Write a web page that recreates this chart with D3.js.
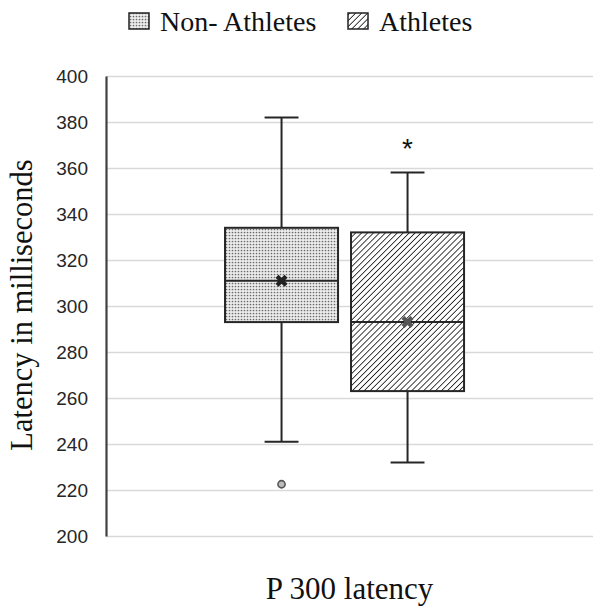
<!DOCTYPE html>
<html><head><meta charset="utf-8">
<script src="https://cdn.jsdelivr.net/npm/d3@7"></script>
<style>body{margin:0;background:#fff}</style>
</head><body>
<svg id="c" width="600" height="612"></svg>
<script>
const categories = ["P 300 latency"];
const series = ["Non- Athletes", "Athletes"];
const whiskerLow = [241, 232];
const q1 = [293, 263];
const median = [311, 293];
const q3 = [334, 332];
const whiskerHigh = [382, 358];
const means = [311, 293];
const outliers = [[222.5], []];
const yTicks = [200, 220, 240, 260, 280, 300, 320, 340, 360, 380, 400];
const yTitle = "Latency in milliseconds";

(function(){
const svg = d3.select("#c");
const pl = 106, pr = 593, pt = 76, pb = 536;
const y = d3.scaleLinear().domain([200, 400]).range([pb, pt]);
const x0 = d3.scaleBand().domain(categories).range([pl, pr]);
const x1 = d3.scaleBand().domain(series).range([0, x0.bandwidth()])
  .paddingInner(0.103).paddingOuter(0.984).align(0.48);

const defs = svg.append("defs");
const pd = defs.append("pattern").attr("id","dots").attr("patternUnits","userSpaceOnUse").attr("width",3).attr("height",3);
pd.append("rect").attr("width",3).attr("height",3).attr("fill","#ececec");
pd.append("circle").attr("cx",1.5).attr("cy",1.5).attr("r",0.85).attr("fill","#6a6a6a");
const ph = defs.append("pattern").attr("id","hatch").attr("patternUnits","userSpaceOnUse").attr("width",4.2).attr("height",4.2).attr("patternTransform","rotate(45)");
ph.append("rect").attr("width",4.2).attr("height",4.2).attr("fill","#fff");
ph.append("line").attr("x1",0).attr("y1",0).attr("x2",0).attr("y2",4.2).attr("stroke","#111").attr("stroke-width",1.6);
const fills = ["url(#dots)", "url(#hatch)"];

const g = svg.append("g").attr("transform", `translate(${pl},0)`);
g.call(d3.axisLeft(y).tickValues(yTicks).tickSize(-(pr-pl)).tickFormat(""))
  .call(s => s.select(".domain").remove())
  .call(s => s.selectAll(".tick line").attr("stroke","#d9d9d9").attr("stroke-width",1.6));
const ax = svg.append("g").attr("transform", `translate(${pl},0)`)
  .call(d3.axisLeft(y).tickValues(yTicks).tickSize(0).tickPadding(18));
ax.select(".domain").attr("stroke","#404040").attr("stroke-width",2.2);
ax.selectAll(".tick text").attr("font-family","Liberation Sans, Arial, sans-serif").attr("font-size",19).attr("fill","#262626");

series.forEach((s, i) => {
  const cx = x0(categories[0]) + x1(s) + x1.bandwidth()/2;
  const bx = x0(categories[0]) + x1(s);
  const bw = x1.bandwidth();
  const cap = bw * 0.3;
  const st = "#262626";
  const gb = svg.append("g");
  gb.append("line").attr("x1",cx).attr("x2",cx).attr("y1",y(whiskerHigh[i])).attr("y2",y(q3[i])).attr("stroke",st).attr("stroke-width",2);
  gb.append("line").attr("x1",cx).attr("x2",cx).attr("y1",y(q1[i])).attr("y2",y(whiskerLow[i])).attr("stroke",st).attr("stroke-width",2);
  gb.append("line").attr("x1",cx-cap/2).attr("x2",cx+cap/2).attr("y1",y(whiskerHigh[i])).attr("y2",y(whiskerHigh[i])).attr("stroke",st).attr("stroke-width",2);
  gb.append("line").attr("x1",cx-cap/2).attr("x2",cx+cap/2).attr("y1",y(whiskerLow[i])).attr("y2",y(whiskerLow[i])).attr("stroke",st).attr("stroke-width",2);
  gb.append("rect").attr("x",bx).attr("y",y(q3[i])).attr("width",bw).attr("height",y(q1[i])-y(q3[i]))
    .attr("fill",fills[i]).attr("stroke",st).attr("stroke-width",2);
  gb.append("line").attr("x1",bx).attr("x2",bx+bw).attr("y1",y(median[i])).attr("y2",y(median[i])).attr("stroke",st).attr("stroke-width",2);
  const my = y(means[i]);
  gb.append("path").attr("d", d3.symbol(d3.symbolCross, 90)()).attr("transform",`translate(${cx},${my}) rotate(45)`)
    .attr("fill", i === 0 ? "#222" : "#555");
  outliers[i].forEach(v => {
    gb.append("circle").attr("cx",cx).attr("cy",y(v)).attr("r",3.6).attr("fill","#bbb").attr("stroke","#555").attr("stroke-width",1.6);
  });
  if (i === 1) {
    gb.append("text").attr("x",cx).attr("y",y(whiskerHigh[i]) - 15).attr("text-anchor","middle")
      .attr("font-family","Liberation Sans, Arial, sans-serif").attr("font-size",28).attr("fill","#111").text("*");
  }
});

svg.append("text").attr("transform",`translate(32,305) rotate(-90)`).attr("text-anchor","middle")
  .attr("font-family","Liberation Serif, Times New Roman, serif").attr("font-size",30.5).attr("fill","#111").text(yTitle);
svg.append("text").attr("x", x0(categories[0]) + x0.bandwidth()/2).attr("y",599).attr("text-anchor","middle")
  .attr("font-family","Liberation Serif, Times New Roman, serif").attr("font-size",31).attr("fill","#111").text(categories[0]);

const lg = svg.append("g");
const legX = [129, 348];
series.forEach((s, i) => {
  lg.append("rect").attr("x",legX[i]).attr("y",13).attr("width",20).attr("height",16).attr("fill",fills[i]).attr("stroke","#222").attr("stroke-width",1.5);
  lg.append("text").attr("x",legX[i]+31).attr("y",31).attr("font-family","Liberation Serif, Times New Roman, serif")
    .attr("font-size",28).attr("fill","#111").text(s);
});
})();
</script>
</body></html>
